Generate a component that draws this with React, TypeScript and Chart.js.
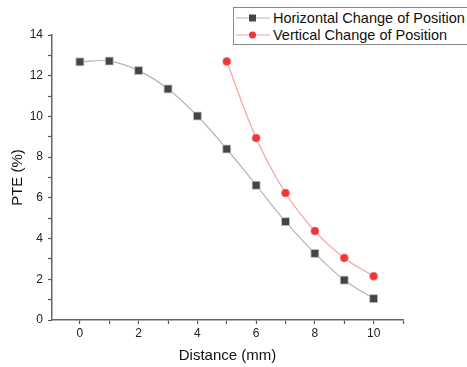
import React, { useEffect, useRef } from "react";
import { Chart, registerables } from "chart.js";

Chart.register(...registerables);

const distances = [0, 1, 2, 3, 4, 5, 6, 7, 8, 9, 10];
const horizontalPTE = [12.68, 12.72, 12.25, 11.35, 10.02, 8.4, 6.62, 4.83, 3.27, 1.96, 1.05];
const verticalDistances = [5, 6, 7, 8, 9, 10];
const verticalPTE = [12.7, 8.94, 6.24, 4.37, 3.05, 2.15];
const xTicks = [0, 1, 2, 3, 4, 5, 6, 7, 8, 9, 10, 11];
const yTicks = [0, 1, 2, 3, 4, 5, 6, 7, 8, 9, 10, 11, 12, 13, 14];
const seriesNames = ["Horizontal Change of Position", "Vertical Change of Position"];

const FONT = "'Liberation Sans', Arial, sans-serif";

export default function App() {
  const ref = useRef<HTMLCanvasElement | null>(null);
  useEffect(() => {
    const canvas = ref.current;
    if (!canvas) return;
    const chart = new Chart(canvas, {
      type: "scatter",
      data: {
        datasets: [
          {
            label: seriesNames[0],
            data: distances.map((d, i) => ({ x: d, y: horizontalPTE[i] })),
            showLine: true,
            tension: 0.4,
            borderColor: "#b4b4b4",
            borderWidth: 1.2,
            pointStyle: "rect",
            pointRadius: 5.6,
            pointBackgroundColor: "#444444",
            pointBorderColor: "#c8c8c8",
            pointBorderWidth: 0.8,
          },
          {
            label: seriesNames[1],
            data: verticalDistances.map((d, i) => ({ x: d, y: verticalPTE[i] })),
            showLine: true,
            tension: 0.4,
            borderColor: "#f6a0a0",
            borderWidth: 1.2,
            pointStyle: "circle",
            pointRadius: 4,
            pointBackgroundColor: "#ef3535",
            pointBorderColor: "#f47a7a",
            pointBorderWidth: 0.8,
          },
        ],
      },
      options: {
        animation: false,
        responsive: false,
        maintainAspectRatio: false,
        layout: { padding: { left: 0, right: 64, top: 35, bottom: 0 } },
        plugins: { legend: { display: false }, tooltip: { enabled: false } },
        scales: {
          x: {
            type: "linear",
            min: -0.95,
            max: 11,
            afterBuildTicks: (axis: any) => {
              axis.ticks = xTicks.map((v) => ({ value: v }));
            },
            afterFit: (axis: any) => {
              axis.height = 47;
            },
            grid: {
              display: true,
              drawOnChartArea: false,
              drawTicks: true,
              tickLength: 4,
              tickColor: "#555555",
              tickWidth: 1.2,
            },
            border: { display: true, color: "#666666", width: 1.5 },
            ticks: {
              autoSkip: false,
              maxRotation: 0,
              padding: 2,
              color: "#222222",
              font: { family: FONT, size: 12 },
              callback: (v: any) => (Number(v) % 2 === 0 ? String(v) : ""),
            },
            title: {
              display: true,
              text: "Distance (mm)",
              color: "#111111",
              font: { family: FONT, size: 15 },
              padding: { top: 0, bottom: 2 },
            },
          },
          y: {
            type: "linear",
            min: 0,
            max: 14,
            afterBuildTicks: (axis: any) => {
              axis.ticks = yTicks.map((v) => ({ value: v }));
            },
            afterFit: (axis: any) => {
              axis.width = 52;
            },
            grid: {
              display: true,
              drawOnChartArea: false,
              drawTicks: true,
              tickLength: 4,
              tickColor: "#555555",
              tickWidth: 1.2,
            },
            border: { display: true, color: "#666666", width: 1.5 },
            ticks: {
              autoSkip: false,
              padding: 5,
              color: "#222222",
              font: { family: FONT, size: 12 },
              callback: (v: any) => (Number(v) % 2 === 0 ? String(v) : ""),
            },
            title: {
              display: true,
              text: "PTE (%)",
              color: "#111111",
              font: { family: FONT, size: 15 },
              padding: { top: 9, bottom: 0 },
            },
          },
        },
      },
    });
    return () => chart.destroy();
  }, []);

  const swatch = (line: string, marker: React.ReactNode) => (
    <svg width={36} height={12} style={{ display: "block", marginRight: 2 }}>
      <line x1={1} y1={6} x2={35} y2={6} stroke={line} strokeWidth={1.2} />
      {marker}
    </svg>
  );

  return (
    <div style={{ position: "fixed", left: 0, top: 0, width: 467, height: 367, background: "#fff", overflow: "hidden" }}>
      <canvas ref={ref} width={467} height={367} style={{ display: "block", width: 467, height: 367 }} />
      <div
        style={{
          position: "absolute",
          left: 233,
          top: 7,
          width: 250,
          height: 38,
          border: "1px solid #8a8a8a",
          background: "#fff",
          fontFamily: FONT,
          fontSize: 14.5,
          color: "#111",
          boxSizing: "border-box",
          paddingTop: 1,
        }}
      >
        <div style={{ display: "flex", alignItems: "center", height: 17 }}>
          <div style={{ marginLeft: 1 }}>
            {swatch("#b4b4b4", <rect x={14} y={2.5} width={7} height={7} fill="#444" />)}
          </div>
          <span style={{ whiteSpace: "nowrap" }}>{seriesNames[0]}</span>
        </div>
        <div style={{ display: "flex", alignItems: "center", height: 18 }}>
          <div style={{ marginLeft: 1 }}>
            {swatch("#f6a0a0", <circle cx={17.5} cy={6} r={3.5} fill="#ef3535" />)}
          </div>
          <span style={{ whiteSpace: "nowrap" }}>{seriesNames[1]}</span>
        </div>
      </div>
    </div>
  );
}
